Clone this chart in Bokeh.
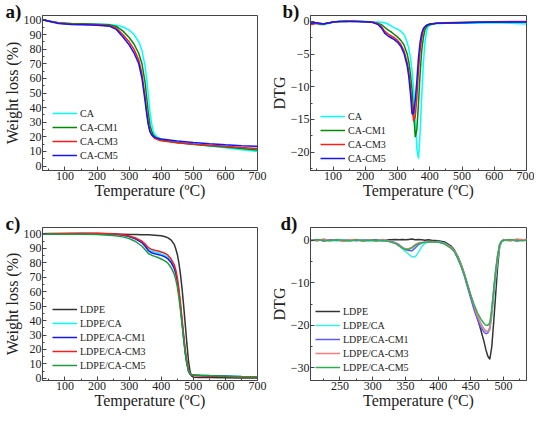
from bokeh.plotting import figure
from bokeh.layouts import column, row
from bokeh.models import Legend, LegendItem, Title, Range1d, FixedTicker
from bokeh.embed import file_html
from bokeh.resources import INLINE

FONT = "Liberation Serif"

# ---------------- Panel a: TGA of CA films ----------------
TA = [30, 50, 80, 120, 160, 200, 240, 260, 280, 300, 315, 330, 340, 350, 355, 360,
      365, 370, 375, 380, 390, 400, 450, 500, 550, 600, 650, 700]
A_CA = [100, 99, 97.8, 97.2, 97, 97, 96.8, 96.3, 95.3, 93, 90, 85, 79, 68, 59, 48,
        37, 29, 24, 21.5, 19.5, 18.5, 16.5, 15, 13.7, 12.5, 11.2, 10]
A_CM1 = [100, 99.2, 98, 97.5, 97.3, 97.1, 96.6, 95.5, 92.5, 88, 83.5, 77, 70, 57, 46, 36,
         28, 24, 21.5, 20, 18.5, 17.8, 16, 15, 14, 13, 12, 11]
A_CM3 = [100, 99, 97.8, 97, 96.8, 96.6, 96, 94.5, 90, 85, 80, 72.5, 63, 47, 37, 29,
         24, 21.5, 20, 19, 18, 17.3, 16, 15, 14.2, 13.5, 12.7, 12]
A_CM5 = [100, 99, 97.6, 96.9, 96.6, 96.3, 95.6, 93.5, 88.5, 83, 77.5, 70, 60, 44, 35, 28,
         23.5, 21.5, 20.5, 19.8, 19, 18.6, 17.2, 16.2, 15.3, 14.6, 14, 13.5]
A_LABELS = ["CA", "CA-CM1", "CA-CM3", "CA-CM5"]

# ---------------- Panel b: DTG of CA films ----------------
TB = [30, 40, 50, 60, 70, 80, 90, 100, 120, 140, 160, 180, 200, 220, 230, 240, 250, 260,
      270, 280, 290, 300, 310, 320, 330, 335, 340, 345, 350, 355, 360, 365, 370, 375,
      380, 385, 390, 395, 400, 410, 420, 450, 500, 550, 600, 650, 700]
B_CA = [-0.3, -0.2, -0.4, -0.5, -0.5, -0.4, -0.3, -0.1, 0, 0, 0.05, 0, 0, -0.05, -0.1,
        -0.1, -0.15, -0.2, -0.4, -0.7, -1.0, -1.2, -1.5, -2.0, -3.2, -4.2, -5.5, -7.5,
        -10.5, -14.5, -19.5, -21.0, -17, -11.5, -6.5, -3.2, -1.5, -0.8, -0.6, -0.4, -0.35,
        -0.3, -0.25, -0.3, -0.2, -0.3, -0.4]
B_CM1 = [-0.3, -0.3, -0.3, -0.4, -0.4, -0.3, -0.2, -0.1, 0, 0.05, 0, 0, -0.05, -0.1, -0.2,
         -0.3, -0.5, -0.9, -1.3, -1.6, -2.0, -2.4, -2.9, -3.6, -5.0, -6.2, -8.0, -10.5,
         -14.0, -17.7, -16.5, -12.5, -8.0, -4.5, -2.5, -1.3, -0.8, -0.6, -0.5, -0.4, -0.3,
         -0.3, -0.2, -0.15, -0.15, -0.1, -0.1]
B_CM3 = [-0.5, -0.4, -0.3, -0.4, -0.4, -0.3, -0.2, -0.1, 0, 0, 0.05, 0, -0.05, -0.1, -0.2,
         -0.4, -0.8, -1.5, -1.9, -2.2, -2.5, -2.9, -3.5, -4.5, -6.3, -7.8, -10.0, -13.0,
         -15.3, -14.5, -11.5, -7.5, -4.5, -2.5, -1.4, -0.9, -0.6, -0.5, -0.4, -0.35, -0.3,
         -0.2, -0.15, -0.1, -0.05, 0, 0]
B_CM5 = [-0.3, -0.2, -0.2, -0.3, -0.4, -0.3, -0.2, -0.1, 0, 0, 0, 0, -0.05, -0.15, -0.3,
         -0.5, -1.0, -1.8, -2.2, -2.5, -2.8, -3.2, -3.8, -4.9, -6.8, -8.5, -11.0, -14.2,
         -14.0, -12.0, -9.0, -5.5, -3.2, -1.8, -1.1, -0.8, -0.6, -0.5, -0.4, -0.35, -0.3,
         -0.25, -0.2, -0.15, -0.1, -0.1, -0.1]

# ---------------- Panel c: TGA of LDPE composites ----------------
TC = [30, 50, 100, 150, 200, 250, 280, 300, 320, 340, 350, 360, 370, 380, 390, 400, 410,
      420, 430, 440, 445, 450, 455, 460, 465, 470, 475, 480, 485, 490, 495, 500, 520, 550,
      600, 650, 700]
C_LDPE = [100.2, 100.3, 100.2, 100.1, 100, 99.9, 99.8, 99.7, 99.6, 99.5, 99.5, 99.4, 99.3,
          99.2, 99, 98.8, 98.3, 97.5, 96, 93, 90, 86, 80, 72, 62, 50, 37, 24, 12, 4.5, 1.5,
          0.8, 0.6, 0.5, 0.4, 0.3, 0.2]
C_CA = [100, 100, 100.2, 100.3, 100.2, 99.8, 99, 98, 96.5, 94, 92, 89.5, 88, 87.5, 87,
        86.2, 85.3, 84, 81.5, 77, 73.5, 68, 60, 50, 39, 28, 18, 10.5, 5.5, 3, 2.5, 2.3, 2.1,
        1.9, 1.6, 1.3, 1.1]
C_CM1 = [100, 100, 100.2, 100.3, 100.3, 100, 99.3, 98.3, 96.7, 94, 91.5, 88.5, 87, 86.3,
         85.8, 85.2, 84.3, 83, 80.5, 76.5, 73, 67.5, 59.5, 49.5, 38.5, 27.5, 17.5, 10, 5,
         2.8, 2.3, 2.1, 1.9, 1.7, 1.4, 1.1, 0.9]
C_CM3 = [100, 100.2, 100.5, 100.6, 100.5, 100.2, 99.5, 98.6, 97.2, 95, 93, 90.5, 89.3,
         88.7, 88.2, 87.5, 86.8, 85.5, 83, 79, 75.5, 70, 62, 52, 41, 30, 19.5, 11.5, 6, 3,
         2.3, 2.0, 1.8, 1.6, 1.3, 1.0, 0.8]
C_CM5 = [100, 100, 99.9, 99.8, 99.6, 99, 98, 96.8, 94.8, 91.5, 89, 86.5, 85.3, 84.5, 83.7,
         82.7, 81.5, 80, 77, 72.5, 69, 63.5, 56, 47, 37, 27, 17.5, 10, 5, 3, 2.6, 2.4, 2.2,
         1.9, 1.5, 1.2, 1.0]
C_LABELS = ["LDPE", "LDPE/CA", "LDPE/CA-CM1", "LDPE/CA-CM3", "LDPE/CA-CM5"]

# ---------------- Panel d: DTG of LDPE composites ----------------
TD = [205, 215, 225, 235, 245, 255, 265, 275, 285, 295, 305, 315, 325, 335, 340, 345, 350,
      355, 360, 365, 370, 375, 380, 385, 390, 400, 410, 420, 425, 430, 435, 440, 445, 450,
      455, 460, 465, 470, 473, 476, 479, 482, 485, 488, 491, 494, 497, 500, 510, 520, 530,
      535]
D_LDPE = [0, 0.1, -0.1, 0, 0.1, -0.1, 0, 0.1, -0.1, 0, 0.1, -0.1, 0.1, 0.2, 0.1, 0.2, 0.1,
          0.2, 0.3, 0.1, 0.2, 0.1, 0, 0.1, 0, -0.1, -0.4, -1.4, -2.3, -3.8, -5.6, -7.8,
          -10.5, -13.2, -15.8, -18.3, -21, -23.8, -25.8, -27.3, -28, -25, -19, -12.5, -6,
          -1.5, -0.3, 0, 0.1, -0.1, 0.1, 0]
D_CA = [0.1, -0.1, 0.2, 0, -0.2, 0.1, -0.1, 0, 0.1, -0.2, 0, -0.1, -0.2, -0.6, -1.2, -2.0,
        -2.6, -3.3, -3.9, -3.9, -2.8, -1.5, -0.7, -0.5, -0.4, -0.3, -0.7, -1.7, -2.5, -4.0,
        -5.8, -8.0, -10.6, -13.2, -15.6, -17.7, -19.5, -20.8, -21.3, -21.5, -21.2, -18,
        -13.5, -8.5, -4.5, -1.5, -0.3, 0, -0.1, 0.1, 0, 0.1]
D_CM1 = [0, 0.2, -0.1, 0.1, 0, -0.1, 0.1, -0.1, 0, 0.1, -0.1, 0, -0.2, -0.6, -1.0, -1.6,
         -2.2, -2.4, -2.5, -1.8, -1.0, -0.6, -0.5, -0.4, -0.4, -0.3, -0.8, -1.8, -2.7, -4.3,
         -6.1, -8.4, -11.1, -13.8, -16.4, -18.6, -20.4, -21.6, -22, -21.8, -20.5, -16.5,
         -11.5, -7, -3.5, -1, -0.2, 0, 0.1, -0.1, 0, 0]
D_CM3 = [0.2, -0.2, 0.3, -0.1, 0.2, -0.3, 0.1, 0.2, -0.2, 0.1, -0.2, 0.2, -0.2, -0.7, -1.2,
         -1.7, -2.0, -2.0, -1.6, -1.0, -0.6, -0.5, -0.4, -0.5, -0.3, -0.4, -0.8, -1.7,
         -2.5, -4.0, -5.8, -8.0, -10.5, -13.0, -15.5, -17.8, -19.6, -20.9, -21.4, -21.5,
         -20.6, -17, -12, -7.5, -3.8, -1.2, -0.2, 0.2, -0.2, 0.3, 0.1, 0.2]
D_CM5 = [-0.1, 0.1, 0, -0.1, 0.1, 0, -0.2, 0.1, -0.1, 0, -0.1, 0, -0.3, -0.8, -1.3, -1.8,
         -2.2, -2.2, -1.8, -1.2, -0.8, -0.6, -0.5, -0.4, -0.4, -0.4, -0.9, -1.9, -2.7,
         -4.2, -6.0, -8.1, -10.6, -13.0, -15.2, -17.0, -18.5, -19.6, -20, -20, -19.4, -16,
         -11.5, -7, -3.5, -1, -0.2, 0, 0.1, 0, -0.1, 0]


def style(p, xt, xminor, yt, yminor, ylab):
    p.grid.visible = False
    p.outline_line_color = "#444444"
    p.outline_line_width = 1
    p.xaxis.ticker = FixedTicker(ticks=xt, minor_ticks=xminor)
    p.yaxis.ticker = FixedTicker(ticks=yt, minor_ticks=yminor)
    p.xaxis.axis_label = "Temperature (ºC)"
    p.yaxis.axis_label = ylab
    for ax in (p.xaxis[0], p.yaxis[0]):
        ax.major_tick_in = 4
        ax.major_tick_out = 0
        ax.minor_tick_in = 2
        ax.minor_tick_out = 0
        ax.axis_line_color = "#444444"
        ax.major_tick_line_color = "#444444"
        ax.minor_tick_line_color = "#444444"
        ax.major_label_text_font = FONT
        ax.major_label_text_font_size = "12px"
        ax.major_label_text_color = "#222222"
        ax.major_label_standoff = 1
        ax.axis_label_text_font = FONT
        ax.axis_label_text_font_size = "16px"
        ax.axis_label_text_font_style = "normal"
        ax.axis_label_text_color = "#222222"
        ax.axis_label_standoff = 0
    p.xaxis.axis_label_standoff = -1


def make(width, height, xr, yr, bl, br, bt, bb):
    return figure(width=width, height=height, x_range=Range1d(*xr), y_range=Range1d(*yr),
                  output_backend="svg", toolbar_location=None,
                  min_border_left=bl, min_border_right=br,
                  min_border_top=bt, min_border_bottom=bb)


def add_legend(p, renderers, labels, loc):
    leg = Legend(items=[LegendItem(label=l, renderers=[r]) for l, r in zip(labels, renderers)],
                 location=loc, background_fill_alpha=0, border_line_alpha=0,
                 padding=0, margin=0, spacing=0, label_height=14, glyph_height=14,
                 glyph_width=25, label_standoff=3, label_text_font=FONT,
                 label_text_font_size="10px", label_text_color="#222222")
    p.add_layout(leg)


def letter(p, text, offset):
    p.add_layout(Title(text=text, align="left", vertical_align="top", offset=offset,
                       standoff=-29, text_font=FONT, text_font_size="19px",
                       text_font_style="bold", text_color="#111111"), "above")


TEMP_T = [100, 200, 300, 400, 500, 600, 700]
TEMP_M = [50, 150, 250, 350, 450, 550, 650]
LW = 1.5

# a
pa = make(267, 201, (30, 700), (-3, 103), 38, 10, 15, 30)
style(pa, TEMP_T, TEMP_M, list(range(0, 101, 10)), list(range(5, 101, 10)), "Weight loss (%)")
ra = [pa.line(TA, ys, line_color=c, line_width=LW)
      for ys, c in zip([A_CA, A_CM1, A_CM3, A_CM5], ["#00FFFF", "#008C00", "#FF1A1A", "#1414FF"])]
add_legend(pa, ra, A_LABELS, (10, 8))
letter(pa, "a)", -37)

# b
pb = make(267, 201, (30, 700), (-22.8, 0.9), 41, 8, 15, 30)
style(pb, TEMP_T, TEMP_M, [0, -5, -10, -15, -20], [-2.5, -7.5, -12.5, -17.5, -22.5], "DTG")
rb = [pb.line(TB, ys, line_color=c, line_width=LW)
      for ys, c in zip([B_CA, B_CM1, B_CM3, B_CM5], ["#00FFFF", "#008C00", "#FF1A1A", "#1414FF"])]
add_legend(pb, rb, A_LABELS, (10, 5))
letter(pb, "b)", -28)

# c
pc = make(267, 210, (30, 700), (-1.5, 104.5), 38, 10, 20, 30)
style(pc, TEMP_T, TEMP_M, list(range(0, 101, 10)), list(range(5, 101, 10)), "Weight loss (%)")
rc = [pc.line(TC, ys, line_color=c, line_width=LW)
      for ys, c in zip([C_LDPE, C_CA, C_CM1, C_CM3, C_CM5],
                       ["#333333", "#00FFFF", "#1414FF", "#FF1A1A", "#1A9E3A"])]
add_legend(pc, rc, C_LABELS, (10, 8))
letter(pc, "c)", -37)

# d
pd_ = make(267, 210, (205, 535), (-33, 3), 41, 8, 26, 30)
style(pd_, [250, 300, 350, 400, 450, 500], [225, 275, 325, 375, 425, 475, 525],
      [0, -10, -20, -30], [-5, -15, -25], "DTG")
rd = [pd_.line(TD, ys, line_color=c, line_width=LW)
      for ys, c in zip([D_LDPE, D_CA, D_CM1, D_CM3, D_CM5],
                       ["#333333", "#30F0F0", "#5A5AFF", "#FF7A7A", "#2EB050"])]
add_legend(pd_, rd, C_LABELS, (5, 6))
letter(pd_, "d)", -30)

layout = column(row(pa, pb), row(pc, pd_))

open("out.html", "w").write(file_html(layout, INLINE))
